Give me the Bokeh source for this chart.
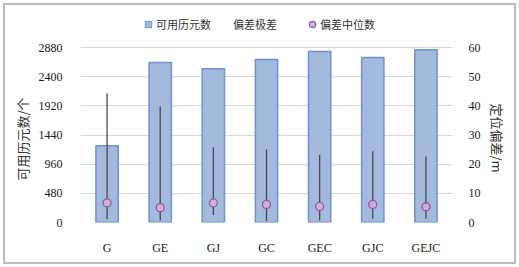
from bokeh.plotting import figure
from bokeh.models import (Range1d, LinearAxis, FixedTicker, FactorRange, Legend,
                          LegendItem, ColumnDataSource, Title)
from bokeh.embed import file_html
from bokeh.resources import INLINE

categories = ["G", "GE", "GJ", "GC", "GEC", "GJC", "GEJC"]
epochs = [1262, 2633, 2529, 2683, 2814, 2715, 2842]
dev_high = [44.3, 39.8, 25.8, 25.0, 23.2, 24.4, 22.6]
dev_low = [1.1, 0.7, 2.6, 0.5, 0.7, 1.3, 1.3]
dev_median = [6.7, 5.1, 6.7, 6.2, 5.5, 6.2, 5.4]
left_ticks = [0, 480, 960, 1440, 1920, 2400, 2880]
right_ticks = [0, 10, 20, 30, 40, 50, 60]

# frame spans from the legend row (y=16) to the zero line (y=222); the top tick
# (2880 / 60) sits 175 px above zero, so the ranges are stretched by 206/175
STRETCH = 206 / 175

src = ColumnDataSource(dict(cat=categories, epochs=epochs, hi=dev_high,
                            lo=dev_low, med=dev_median))

p = figure(width=519, height=267, x_range=FactorRange(*categories, range_padding=0),
           y_range=Range1d(0, left_ticks[-1] * STRETCH), output_backend="svg",
           toolbar_location=None, min_border_left=80, min_border_right=67,
           min_border_top=16, min_border_bottom=45)
p.extra_y_ranges = {"dev": Range1d(0, right_ticks[-1] * STRETCH),
                    "hidden": Range1d(-200, -100)}
p.outline_line_color = None
p.background_fill_color = "white"
p.border_fill_color = "white"
p.border_fill_alpha = 0
p.styles = {"background-color": "white",
            "box-shadow": "inset 0 0 0 3px white, inset 0 0 0 5px #bcbcbc"}

BAR_FILL, BAR_LINE = "#a3b9de", "#6f93cc"
MED_FILL, MED_LINE = "#d3acd8", "#8c5aa6"

bars = p.vbar(x="cat", top="epochs", width=0.42, source=src,
              fill_color=BAR_FILL, line_color=BAR_LINE, line_width=1.5)
segs = p.segment(x0="cat", y0="lo", x1="cat", y1="hi", source=src, y_range_name="dev",
                 line_color="#4a4a4a", line_width=1.3)
meds = p.scatter(x="cat", y="med", source=src, y_range_name="dev", size=8,
                 fill_color=MED_FILL, line_color=MED_LINE, line_width=1.3)

# legend proxies: drawn on a range far outside the view, so only the legend shows them
leg_sq = p.scatter(x="cat", y="med", source=src, y_range_name="hidden", marker="square",
                   fill_color=BAR_FILL, line_color=BAR_LINE, line_width=1)
leg_none = p.scatter(x="cat", y="med", source=src, y_range_name="hidden", marker="circle",
                     fill_alpha=0, line_alpha=0)
leg_circ = p.scatter(x="cat", y="med", source=src, y_range_name="hidden", marker="circle",
                     fill_color=MED_FILL, line_color=MED_LINE, line_width=1.2)

# axes
yax = p.yaxis[0]
yax.ticker = FixedTicker(ticks=left_ticks)
yax.major_label_standoff = 12

ax2 = LinearAxis(y_range_name="dev", ticker=FixedTicker(ticks=right_ticks))
ax2.major_label_standoff = 10
p.add_layout(ax2, "right")

p.xaxis.major_label_standoff = 12

for ax in p.xaxis + p.yaxis + [ax2]:
    ax.axis_line_color = None
    ax.major_tick_line_color = None
    ax.minor_tick_line_color = None
    ax.major_label_text_font = "Liberation Serif"
    ax.major_label_text_font_size = "12px"
    ax.major_label_text_color = "#1a1a1a"

p.xgrid.grid_line_color = None
p.ygrid.grid_line_color = "#d9d9d9"
p.ygrid.grid_line_width = 1
p.ygrid.ticker = FixedTicker(ticks=left_ticks)

# axis titles as side titles, offset so they are centred on the 0..2880 span
lt = Title(text="可用历元数/个", align="left", offset=42, standoff=8,
           text_font="Noto Sans CJK SC", text_font_size="13px",
           text_font_style="normal", text_color="#333333")
p.add_layout(lt, "left")
rt = Title(text="定位偏差/m", align="left", offset=87, standoff=8,
           text_font="Noto Sans CJK SC", text_font_size="13px",
           text_font_style="normal", text_color="#333333")
p.add_layout(rt, "right")


def add_legend(label, renderer, loc, gw):
    lg = Legend(items=[LegendItem(label=label, renderers=[renderer])],
                location=loc, orientation="horizontal",
                glyph_width=gw, glyph_height=16, label_height=16,
                label_standoff=0, padding=0, margin=0, spacing=0,
                border_line_color=None, background_fill_alpha=0,
                label_text_font="Noto Sans CJK SC", label_text_font_size="11px",
                label_text_color="#333333")
    p.add_layout(lg, "center")


add_legend("可用历元数", leg_sq, (60, 190), 16)
add_legend("偏差极差", leg_none, (153, 190), 0)
add_legend("偏差中位数", leg_circ, (224, 190), 16)

open("out.html", "w").write(file_html(p, INLINE))
